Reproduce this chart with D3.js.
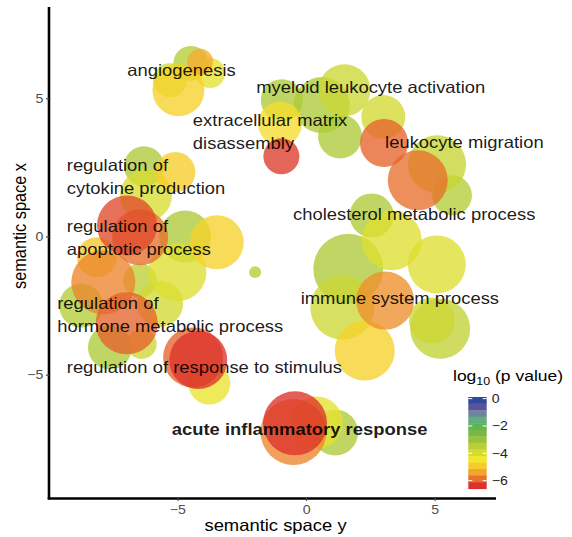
<!DOCTYPE html>
<html>
<head>
<meta charset="utf-8">
<script src="https://cdn.jsdelivr.net/npm/d3@7"></script>
<style>
  body { margin: 0; background: #fff; }
  svg { display: block; font-family: "Liberation Sans", Arial, Helvetica, sans-serif; }
</style>
</head>
<body>
<div id="chart"></div>
<script>
// GO terms in semantic space (REVIGO style bubble plot)
// x = semantic space y (horizontal), y = semantic space x (vertical)
const termX = [-4.48, -4.12, -3.73, -4.96, -5.29,
  -0.94, 0.61, 1.49, -1.01, 1.32, 3.00, 3.03, -0.96,
  4.34, 5.09, 5.67,
  2.55, 3.33,
  1.64, 5.08, 1.41, 3.07, 2.28, 5.21, 4.89,
  -1.98,
  -6.30, -5.08, -6.22, -6.96, -6.45, -4.70, -3.47, -5.00, -7.88, -8.13, -6.45, -5.67, -8.74,
  -6.97, -7.62, -6.39, -4.39, -4.19, -3.76,
  -0.43, -0.49, 0.42, 1.13];
const termY = [6.26, 6.32, 5.91, 5.29, 5.65,
  4.93, 4.75, 5.29, 4.08, 3.62, 4.32, 3.38, 2.90,
  2.03, 2.61, 1.49,
  0.76, -0.14,
  -1.17, -1.01, -2.58, -2.32, -4.13, -3.34, -3.04,
  -1.29,
  2.54, 2.33, 1.49, 0.40, -0.03, 0.00, -0.21, -1.29, -1.66, -0.75, -1.59, -2.43, -2.50,
  -3.14, -4.01, -3.89, -4.38, -4.47, -5.32,
  -6.76, -7.07, -6.73, -7.09];
// log10 of annotation count
const termSize = [2.91, 2.40, 2.63, 3.87, 2.85,
  3.31, 4.10, 3.87, 3.42, 3.42, 3.42, 3.65, 2.97,
  4.32, 4.21, 3.19,
  3.42, 4.32,
  4.89, 4.21, 4.55, 4.21, 4.32, 4.32, 3.53,
  1.61,
  3.19, 3.19, 3.87, 4.32, 4.10, 3.87, 3.98, 4.21, 4.55, 3.19, 2.85, 3.53, 3.42,
  4.44, 3.42, 2.63, 4.32, 4.21, 3.31,
  4.55, 4.66, 3.87, 3.53];
const termLogP = [-3.4, -5.3, -4.2, -4.8, -3.9,
  -3.3, -3.3, -3.8, -4.6, -3.3, -3.9, -6.0, -6.3,
  -5.9, -3.7, -3.4,
  -3.3, -4.1,
  -3.3, -4.1, -3.8, -5.6, -4.8, -3.6, -3.8,
  -3.4,
  -3.3, -4.9, -4.0, -6.2, -5.9, -3.3, -4.8, -4.1, -5.7, -5.0, -3.5, -3.9, -3.4,
  -6.0, -3.3, -3.8, -6.0, -6.5, -4.3,
  -6.6, -5.7, -4.2, -3.3];

// cluster labels (left edge, block centre)
const labelText = ['angiogenesis', 'myeloid leukocyte activation', 'extracellular matrix\ndisassembly',
  'leukocyte migration', 'regulation of\ncytokine production', 'cholesterol metabolic process',
  'regulation of\napoptotic process', 'immune system process', 'regulation of\nhormone metabolic process',
  'regulation of response to stimulus', 'acute inflammatory response'];
const labelX = [-6.95, -1.94, -4.40, 3.07, -9.30, -0.51, -9.30, -0.21, -9.67, -9.30, -5.22];
const labelY = [6.01, 5.41, 3.78, 3.42, 2.15, 0.82, -0.05, -2.24, -2.83, -4.74, -6.97];
const labelBold = [false, false, false, false, false, false, false, false, false, false, true];

const xTicks = [-5, 0, 5];
const yTicks = [-5, 0, 5];

// colour bar (log10 p value)
const legendStops = [-0.12, -0.60, -1.08, -1.56, -2.04, -2.52, -3.00, -3.47, -3.95, -4.43, -4.91, -5.39, -5.87, -6.35];
const legendColors = ['#2d4a9b', '#59539f', '#6e83a0', '#62ad7c', '#5fb554', '#77b944', '#98c23d',
  '#b9cf36', '#d5db31', '#f3e72c', '#f7cc2a', '#f2a52d', '#e8722b', '#dc3229'];
const legendTicks = [0, -2, -4, -6];
const legendLimits = [0.12, -6.59];

const W = 572, H = 537;
const panel = {left: 49, right: 496, top: 7, bottom: 498};
const stretch = 1.13; // text in the source figure is a bit wider than tall

const svg = d3.select('#chart').append('svg')
  .attr('width', W).attr('height', H);

const x = d3.scaleLinear([-9.99, 7.38], [panel.left, panel.right]);
const y = d3.scaleLinear([-9.46, 8.30], [panel.bottom, panel.top]);
const r = d3.scaleLinear([1.5, 5], [5, 36]);
const color = d3.scaleLinear(legendStops, legendColors)
  .interpolate(d3.interpolateLab).clamp(true);

// bubbles, least significant first so the red ones sit on top
const order = d3.range(termX.length).sort((a, b) => termLogP[b] - termLogP[a]);
svg.append('g').selectAll('circle')
  .data(order)
  .join('circle')
  .attr('cx', i => x(termX[i]))
  .attr('cy', i => y(termY[i]))
  .attr('r', i => r(termSize[i]))
  .attr('fill', i => color(termLogP[i]))
  .attr('fill-opacity', 0.78);

// labels
const lineH = 22.5;
svg.append('g').selectAll('text')
  .data(d3.range(labelText.length))
  .join('text')
  .attr('transform', i => `translate(${x(labelX[i])},${y(labelY[i])}) scale(${stretch},1)`)
  .attr('font-size', 16.3)
  .attr('font-weight', i => labelBold[i] ? 'bold' : 'normal')
  .attr('fill', '#000')
  .attr('fill-opacity', 0.9)
  .each(function (i) {
    const lines = labelText[i].split('\n');
    const t = d3.select(this);
    lines.forEach((line, k) => {
      t.append('tspan')
        .attr('x', 0)
        .attr('y', (k - (lines.length - 1) / 2) * lineH)
        .attr('dy', '0.35em')
        .text(line);
    });
  });

// axes
const axisX = svg.append('g')
  .attr('transform', `translate(0,${panel.bottom})`)
  .call(d3.axisBottom(x).tickValues(xTicks).tickSize(3).tickSizeOuter(0).tickPadding(4)
    .tickFormat(d3.format('')));
const axisY = svg.append('g')
  .attr('transform', `translate(${panel.left},0)`)
  .call(d3.axisLeft(y).tickValues(yTicks).tickSize(3).tickSizeOuter(0).tickPadding(3)
    .tickFormat(d3.format('')));

[axisX, axisY].forEach(a => {
  a.select('.domain').attr('stroke', '#000').attr('stroke-width', 2.6);
  a.selectAll('.tick line').attr('stroke', '#4d4d4d').attr('stroke-width', 1.2);
  a.selectAll('.tick text')
    .attr('fill', '#4d4d4d')
    .attr('font-size', 12.5)
    .attr('font-family', '"Liberation Sans", Arial, sans-serif');
});
axisX.selectAll('.tick text').attr('transform', `scale(${stretch},1)`);
axisY.selectAll('.tick text').attr('x', -5).attr('transform', `scale(${stretch},1)`);
axisX.select('.domain').attr('d', `M${panel.left - 1.3},0.5H${panel.right}`);
axisY.select('.domain').attr('d', `M0,${panel.top}V${panel.bottom + 1.3}`);

// axis titles
svg.append('text')
  .attr('transform', `translate(${(panel.left + panel.right) / 2 + 3},${531}) scale(${stretch},1)`)
  .attr('text-anchor', 'middle')
  .attr('font-size', 16.3)
  .text('semantic space y');
svg.append('text')
  .attr('transform', `translate(${26},${226}) rotate(-90) scale(1,${stretch})`)
  .attr('text-anchor', 'middle')
  .attr('font-size', 16.3)
  .text('semantic space x');

// colour legend
const lg = svg.append('g');
const lx = 468.3, lw = 18.4;
const ly = d3.scaleLinear(legendLimits, [397, 488.7]);
const binH = (ly(legendLimits[1]) - ly(legendLimits[0])) / legendStops.length;

const title = lg.append('text')
  .attr('transform', `translate(453,381) scale(${stretch},1)`)
  .attr('font-size', 15.5);
title.append('tspan').text('log');
title.append('tspan').attr('font-size', 11).attr('dy', 4).text('10');
title.append('tspan').attr('dy', -4).text(' (p value)');

lg.selectAll('rect')
  .data(legendStops)
  .join('rect')
  .attr('x', lx)
  .attr('y', (d, i) => ly(legendLimits[0]) + i * binH)
  .attr('width', lw)
  .attr('height', binH + 0.4)
  .attr('fill', d => color(d));

lg.selectAll('.ltick')
  .data(legendTicks)
  .join('g')
  .attr('class', 'ltick')
  .each(function (d) {
    const g = d3.select(this);
    const yy = ly(d);
    g.append('line').attr('x1', lx).attr('x2', lx + 4).attr('y1', yy).attr('y2', yy)
      .attr('stroke', '#fff').attr('stroke-width', 1);
    g.append('line').attr('x1', lx + lw - 4).attr('x2', lx + lw).attr('y1', yy).attr('y2', yy)
      .attr('stroke', '#fff').attr('stroke-width', 1);
    g.append('text')
      .attr('transform', `translate(${lx + lw + 5},${yy}) scale(${stretch},1)`)
      .attr('dy', '0.35em')
      .attr('font-size', 12.5)
      .attr('fill', '#222')
      .text(d3.format('')(d));
  });
</script>
</body>
</html>
